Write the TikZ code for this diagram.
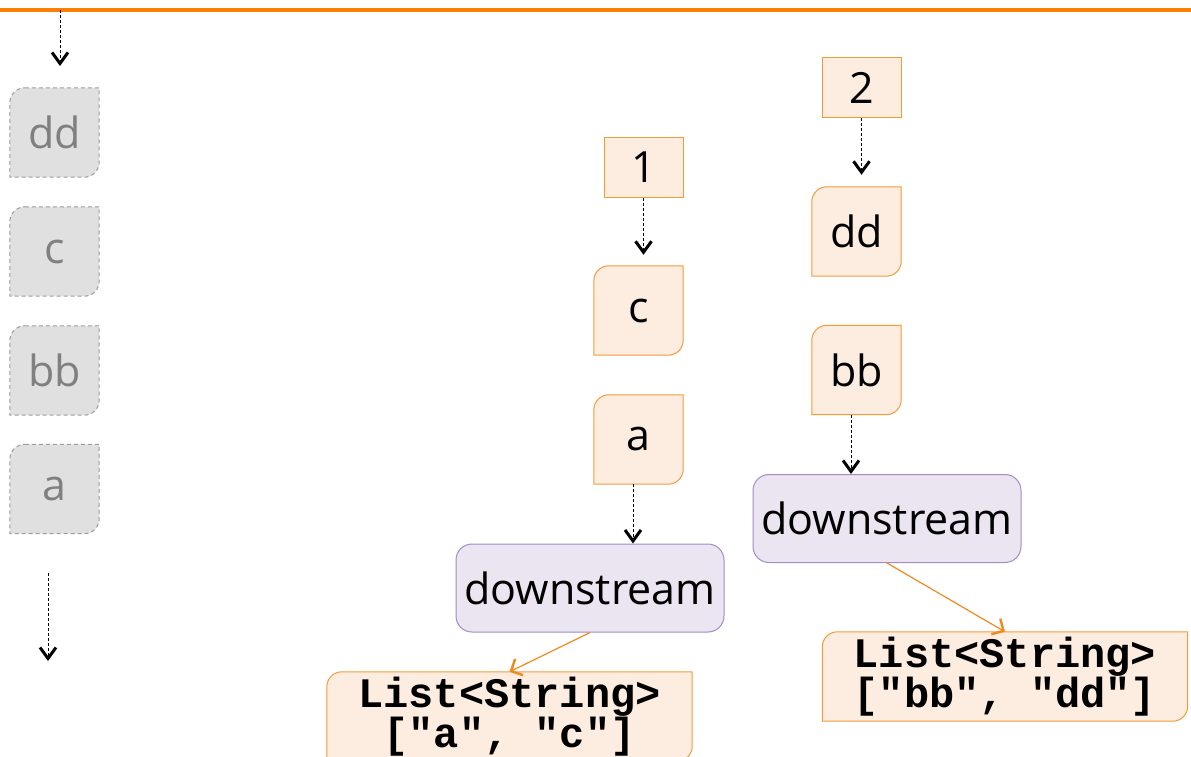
\documentclass[tikz,border=0pt]{standalone}
\usepackage{fontspec}
\setmainfont{Open Sans}
\setmonofont{Liberation Mono}
\usetikzlibrary{arrows.meta,backgrounds}

\definecolor{barorange}{HTML}{FF8000}
\definecolor{itemfill}{HTML}{FDEDE0}
\definecolor{itemline}{HTML}{F29B38}
\definecolor{opfill}{HTML}{EAE5F0}
\definecolor{opline}{HTML}{A38BC6}
\definecolor{ghostfill}{HTML}{E0E0E0}
\definecolor{ghostline}{HTML}{9C9C9C}
\definecolor{ghosttext}{HTML}{808080}
\definecolor{floworange}{HTML}{F08A1E}

\tikzset{
  base/.style={inner sep=0pt, font=\fontsize{43}{46}\selectfont},
  leaf/.style={base, minimum width=89pt, minimum height=89pt},
  keybox/.style={base, minimum width=79pt, minimum height=60pt,
    draw=itemline, fill=itemfill, line width=1pt},
  opbox/.style={base, minimum width=268pt, minimum height=88pt,
    draw=opline, fill=opfill, line width=1pt, rounded corners=16pt},
  listbox/.style={inner sep=0pt, minimum width=365pt, minimum height=89pt,
    align=center, font=\fontsize{42}{40}\selectfont\ttfamily\bfseries},
  ghost/.style={leaf, text=ghosttext},
  ghostshape/.style={fill=ghostfill, draw=ghostline, line width=1pt,
    dash pattern=on 4pt off 3pt},
  itemshape/.style={fill=itemfill, draw=itemline, line width=1pt},
  flow/.style={draw=black, line width=1pt, dash pattern=on 3pt off 2pt,
    -{Straight Barb[length=11pt,width=16pt,line width=3pt]}},
  emit/.style={draw=floworange, line width=1.2pt,
    -{Straight Barb[length=9pt,width=18pt,line width=2.4pt]}}
}

\begin{document}
\begin{tikzpicture}[x=1pt,y=1pt]
\useasboundingbox (0,0) rectangle (1191,-756);

% top bar of the timeline
\draw[barorange, line width=4.5pt] (0,-10) -- (1191,-10);

% incoming stream (left column)
\coordinate (srcTop) at (60,-10);
\coordinate (srcIn) at (60,-66);
\node[ghost] (g1) at (54.5,-132.5) {dd};
\node[ghost] (g2) at (54.5,-251.5) {c};
\node[ghost] (g3) at (54.5,-370.5) {bb};
\node[ghost] (g4) at (54.5,-489) {a};
\coordinate (sinkTop) at (48,-573);
\coordinate (sinkEnd) at (48,-661);

% group 1
\node[keybox] (k1) at (643.5,-167) {1};
\node[leaf] (c) at (638.5,-310.5) {c};
\node[leaf] (a) at (638.5,-439.5) {a};
\node[opbox] (dsL) at (590,-588) {downstream};
\node[listbox] (listL) at (509.5,-716.5) {List<String>\\{}["a", "c"]};

% group 2
\node[keybox] (k2) at (861.5,-87.5) {2};
\node[leaf] (dd) at (856.5,-231.5) {dd};
\node[leaf] (bb) at (856.5,-370) {bb};
\node[opbox] (dsR) at (887,-518.5) {downstream};
\node[listbox] (listR) at (1005,-676.5) {List<String>\\{}["bb", "dd"]};

% leaf shapes: top-left and bottom-right corners rounded
\begin{scope}[on background layer]
  \foreach \n/\s in {g1/ghostshape,g2/ghostshape,g3/ghostshape,g4/ghostshape,
                     c/itemshape,a/itemshape,dd/itemshape,bb/itemshape,
                     listL/itemshape,listR/itemshape}{
    \path[\s] ([xshift=15pt]\n.north west) -- (\n.north east)
      -- ([yshift=15pt]\n.south east) arc[start angle=0,end angle=-90,radius=15pt]
      -- (\n.south west)
      -- ([yshift=-15pt]\n.north west) arc[start angle=180,end angle=90,radius=15pt]
      -- cycle;
  }
\end{scope}

% connectors
\draw[flow] (srcTop) -- (srcIn);
\draw[flow] (sinkTop) -- (sinkEnd);
\draw[flow] (k1.south) -- ([yshift=11pt]k1.south |- c.north);
\draw[flow] ([xshift=-5.5pt]a.south) -- ([xshift=-5.5pt]a.south |- dsL.north);
\draw[emit] (dsL.south) -- (listL.north);
\draw[flow] (k2.south) -- ([yshift=12pt]k2.south |- dd.north);
\draw[flow] ([xshift=-5.5pt]bb.south) -- ([xshift=-5.5pt]bb.south |- dsR.north);
\draw[emit] (dsR.south) -- (listR.north);
\end{tikzpicture}
\end{document}
